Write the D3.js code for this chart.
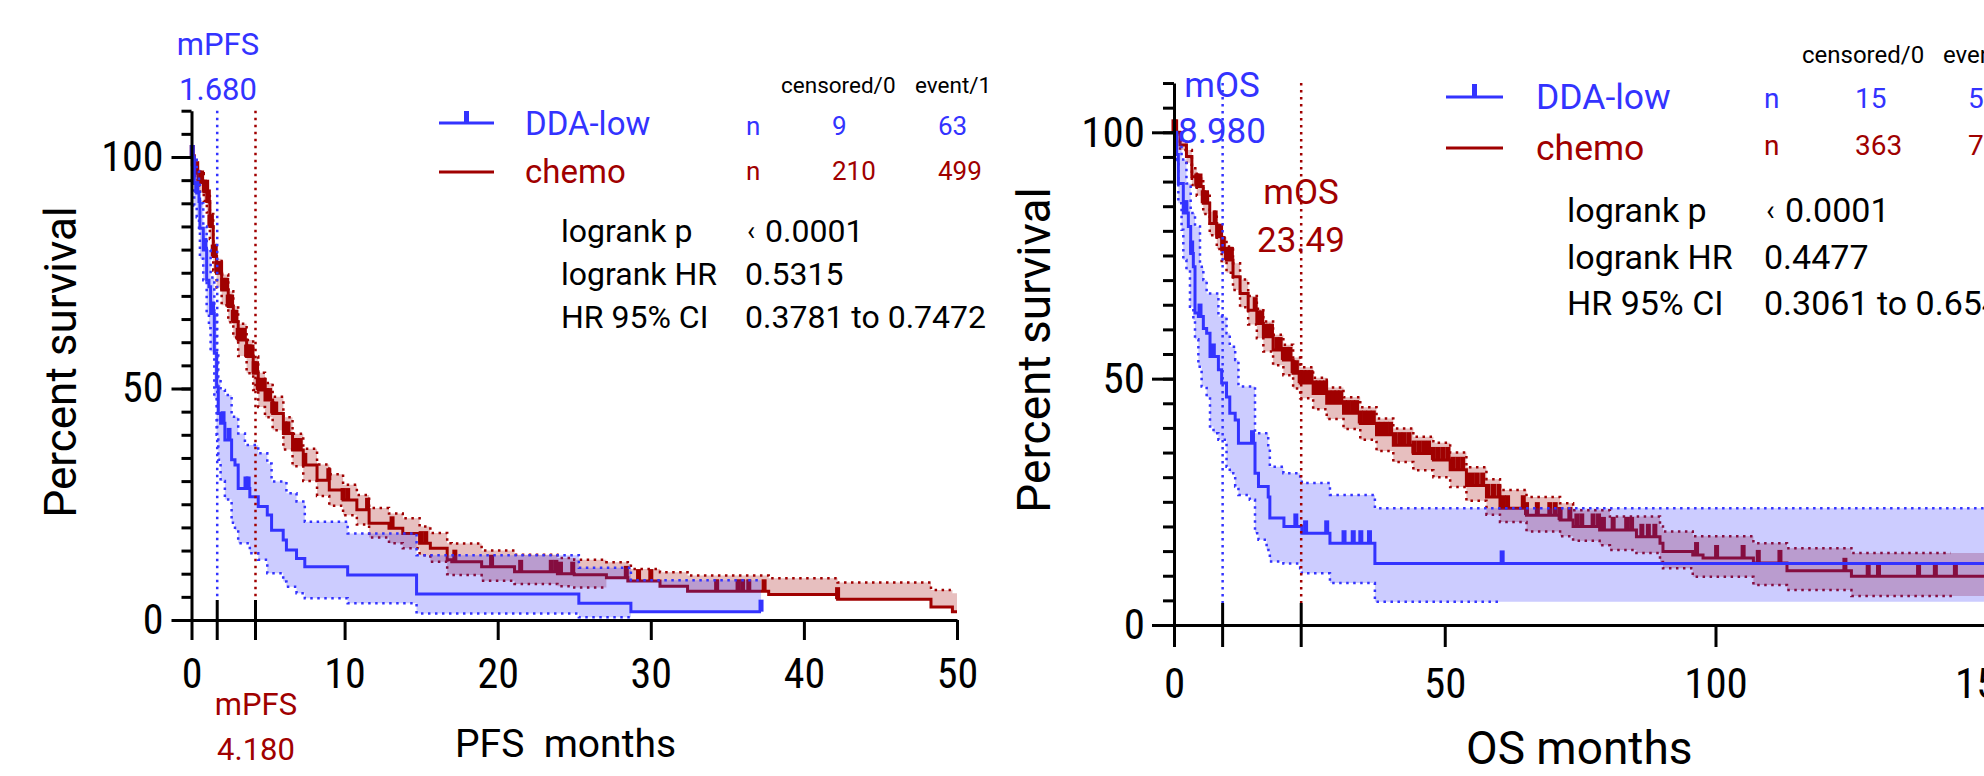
<!DOCTYPE html>
<html>
<head>
<meta charset="utf-8">
<script src="https://cdn.jsdelivr.net/npm/d3@7"></script>
<style>
html, body { margin: 0; padding: 0; background: #fff; overflow: hidden; }
svg { display: block; }
text { font-family: Roboto, "Noto Sans", sans-serif; }
.tick text { font-family: "Roboto Condensed", "Liberation Sans Narrow", Roboto, sans-serif; }
</style>
</head>
<body>
<svg id="chart" width="1984" height="776"></svg>
<script>
const BLUE = '#3333ff';
const RED = '#a00000';

// Kaplan-Meier rows: [months, survival %, lower 95% CI, upper 95% CI]
const pfsLow = [
  [0, 100, 100, 100], [0.18, 94.3, 89.5, 99.4], [0.34, 92.2, 87, 97], [0.49, 90.4, 84.2, 95],
  [0.55, 84.6, 78, 90], [0.77, 79.9, 73.4, 85], [0.99, 73.4, 66, 80], [1.14, 72.0, 63, 79.9],
  [1.25, 66.2, 58, 74], [1.49, 57.6, 48, 66], [1.64, 50.4, 40, 57.6], [1.75, 44.6, 34.6, 52],
  [1.90, 42.5, 30, 49.7], [2.18, 38.9, 26, 48.6], [2.62, 34.6, 21, 43.9], [2.84, 33.5, 19.4, 43.9],
  [3.05, 28.4, 16.6, 40.3], [3.49, 28.4, 16.6, 37.8], [3.81, 26.6, 14.4, 37.8], [4.36, 24.5, 13.0, 36.0],
  [4.95, 22.7, 10.1, 33.8], [5.23, 19.4, 10.1, 29.9], [5.99, 17.3, 8.3, 29.9], [6.2, 15.1, 7.2, 27.4],
  [6.86, 13.3, 5.8, 25.6], [7.4, 11.5, 4.7, 21.2], [10.2, 9.7, 3.6, 18.7], [14.7, 5.6, 1.4, 14.0],
  [25.3, 3.6, 0.6, 11.3], [28.7, 1.8, 1.8, 8.6], [37.2, 1.8, 1.8, 8.6]
];
const pfsLowCensor = [0.05, 0.34, 0.88, 1.38, 2.06, 2.45, 3.56, 3.7, 37.2];

const pfsChemo = [
  [0, 100, 100, 100], [0.1, 98, 97, 99.5], [0.23, 96.5, 95, 98], [0.5, 94.5, 92.5, 96.5],
  [0.8, 92.5, 90.5, 94.5], [1.0, 90.4, 88, 92.7], [1.2, 85, 82.3, 87.7], [1.42, 78.5, 75.5, 81.5],
  [1.64, 74.9, 71.8, 78], [1.97, 71.3, 68, 74.6], [2.4, 67.7, 64.3, 71], [2.73, 64.4, 61, 67.8],
  [3.05, 60.5, 57, 64], [3.6, 56.9, 53.3, 60.5], [4.03, 53.3, 49.7, 56.9], [4.36, 49.7, 46, 53.4],
  [4.8, 47.5, 43.8, 51.2], [5.3, 44.6, 41, 48.2], [6.0, 40.3, 36.8, 43.8], [6.6, 36.7, 33.2, 40.2],
  [7.3, 33.5, 30, 37], [8.2, 30.2, 26.8, 33.6], [9.0, 28.1, 24.7, 31.5], [9.9, 25.9, 22.6, 29.2],
  [10.8, 23.8, 20.6, 27], [11.6, 20.9, 17.8, 24.2], [12.9, 19.8, 16.6, 23], [13.8, 18.7, 15.5, 22],
  [14.9, 16.6, 14.0, 20.2], [15.6, 15.5, 12.6, 18.8], [16.7, 13.0, 9.9, 16.6], [17.0, 12.6, 9.7, 16.5],
  [18.95, 11.5, 8.5, 15.0], [21.1, 10.4, 7.8, 14.1], [23.9, 10.0, 7.3, 13.4], [25.0, 9.8, 7.0, 13.0],
  [27.1, 9.1, 9.1, 12.5], [28.5, 8.4, 8.4, 12.1], [28.7, 8.4, 8.4, 11.0], [30.6, 7.3, 7.3, 10.3],
  [32.4, 6.2, 6.2, 9.6], [37.7, 5.5, 5.5, 9.0], [42.2, 4.5, 4.5, 8.1], [48.3, 2.8, 2.8, 6.5],
  [49.7, 1.8, 1.8, 5.8], [50, 1.8, 1.8, 5.8]
];
const pfsChemoCensor = [
  0.05, 0.12, 0.34, 0.5, 0.66, 0.85, 0.99, 1.1, 1.2, 1.3, 1.42, 1.55, 1.65, 1.75, 1.9, 2.05, 2.18,
  2.3, 2.4, 2.51, 2.62, 2.73, 2.9, 3.05, 3.16, 3.3, 3.45, 3.6, 3.7, 3.8, 3.95, 4.1, 4.25, 4.36, 4.5,
  4.58, 4.75, 4.9, 5.1, 5.3, 5.5, 6.1, 6.3, 6.75, 6.9, 7.1, 7.4, 8.97, 9.9, 10.2, 11.5, 13.1, 15.0,
  15.3, 17.2, 19.6, 21.5, 23.5, 23.8, 24.1, 24.9, 28.4, 29.2, 30.0, 34.3, 35.7, 36.0, 36.4, 37.4, 42.2
];

const osLow = [
  [0, 100, 100, 100], [0.49, 95.5, 94.4, 100], [0.8, 89.6, 85.6, 100], [1.4, 89.6, 80.2, 94.5],
  [1.72, 83.6, 74.1, 94.5], [2.3, 83.6, 72, 89.6], [2.65, 80.9, 72, 89.6], [2.95, 80.9, 64.6, 89.6],
  [3.08, 75.4, 64.6, 83.6], [3.57, 72.7, 61.9, 83.6], [3.88, 63.3, 58, 80.9], [4.5, 62.6, 52.4, 80.9],
  [4.8, 62.6, 52.4, 72.7], [5.1, 62.6, 48.4, 72.7], [5.42, 60.2, 48.4, 70], [6.03, 59.2, 46.3, 67.3],
  [6.65, 54.5, 40.3, 67.3], [7.3, 54.5, 38.9, 67.3], [8.2, 51.8, 37.6, 62.6], [8.8, 49.1, 37.6, 62.6],
  [9.7, 46.3, 32.1, 59.2], [10.3, 43, 30.8, 56.5], [11.3, 41.6, 28.1, 53.8], [11.9, 36.9, 26.4, 48.4],
  [14.0, 36.9, 25.4, 48.4], [14.96, 30.8, 18.6, 38.9], [15.6, 28.1, 17.3, 38.9], [17.1, 28.1, 15.2, 38.9],
  [17.4, 26.0, 15.2, 36.2], [17.7, 21.7, 12.9, 32.1], [20.2, 21.7, 12.5, 30.8], [20.3, 20.0, 12.5, 30.8],
  [23.3, 20.0, 11.5, 29.8], [23.6, 18.6, 10.5, 28.8], [28.8, 16.6, 8.5, 26.4], [37.1, 12.5, 4.7, 23.7],
  [150, 12.5, 4.7, 23.7]
];
const osLowCensor = [2.2, 3.26, 4.8, 7.26, 14.5, 22.5, 24.3, 28.2, 31.4, 33.1, 34.5, 36.1, 60.6];

const osChemo = [
  [0, 100, 100, 100], [1.1, 97.4, 96.4, 98.4], [2.3, 95.1, 93.8, 96.4], [3.3, 91, 89.3, 92.7],
  [4.2, 89, 87.1, 90.9], [5.4, 85.6, 83.4, 87.8], [6.6, 81.5, 79.1, 83.9], [7.9, 78.8, 76.3, 81.3],
  [8.8, 76.1, 73.5, 78.7], [9.7, 74.1, 71.5, 76.8], [10.9, 70.7, 68, 73.4], [12.2, 67.3, 64.5, 70.1],
  [13.7, 63.9, 61, 66.8], [15.3, 61.2, 58.2, 64.2], [16.5, 58.5, 55.5, 61.6], [18.3, 55.8, 52.7, 58.9],
  [20.2, 53.8, 50.7, 56.9], [22, 51.1, 48, 54.3], [23.3, 49.1, 46, 52.3], [25.7, 47, 43.8, 50.2],
  [28.2, 45, 41.8, 48.2], [31.3, 43, 39.8, 46.2], [34.4, 40.9, 37.6, 44.2], [37.4, 38.6, 35.3, 41.9],
  [40.5, 36.5, 33.1, 39.9], [44.2, 34.8, 31.4, 38.2], [47.9, 33.5, 30.0, 37.0], [51, 31.5, 28, 35],
  [54, 28.3, 25.2, 32], [57.7, 26, 22.4, 29.6], [60.2, 23.7, 20.9, 27.4], [65.1, 22.3, 19.0, 26],
  [71.3, 21.3, 18.0, 24.7], [73.7, 20.0, 17.1, 23.3], [78.6, 19.3, 16.2, 23.3], [80.5, 19.3, 15.2, 22.0],
  [85.4, 17.9, 14.6, 22.0], [89.75, 16.6, 12.8, 20.0], [90.3, 14.9, 11.5, 19.0], [95.8, 14.2, 9.8, 18.0],
  [97.7, 13.6, 9.8, 18.0], [107, 12.6, 8.1, 16.6], [113.2, 11.0, 7.1, 15.6], [125.1, 9.9, 5.9, 14.6],
  [150, 9.9, 5.9, 14.6]
];
const osChemoCensor = [
  0, 0.3, 4.2, 4.8, 5.4, 6.0, 7.6, 8.1, 8.6, 9.1, 9.7, 10.2, 10.6, 15.0, 15.6, 16.2, 16.8, 17.4,
  18.0, 19.0, 19.6, 20.2, 20.8, 21.4, 22.0, 22.6, 23.3, 24.0, 24.6, 25.3, 26.0, 26.6, 27.3, 28.0,
  28.6, 29.4, 30.1, 30.8, 31.5, 32.2, 33.0, 33.7, 34.4, 35.2, 36.0, 36.8, 37.6, 38.4, 39.2, 40.0,
  40.8, 41.7, 42.5, 43.4, 44.3, 45.2, 46.1, 47.0, 47.9, 48.8, 49.7, 50.6, 51.5, 52.4, 53.3, 54.2,
  55.1, 56.0, 57.0, 58.0, 59.0, 60.0, 60.8, 61.6, 64.5, 65.1, 67.1, 69.4, 70.4, 71.3, 73.1, 74.4,
  75.3, 77.4, 78.4, 79.3, 81.1, 83.6, 84.5, 86.4, 87.6, 88.8, 96.5, 100.2, 105.1, 107.9, 111.9,
  123.9, 128.2, 130.1, 137.5, 140.6, 144.3
];

const pfsMedians = [1.68, 4.18];
const osMedians = [8.98, 23.49];
const pfsXTicks = [0, 10, 20, 30, 40, 50];
const osXTicks = [0, 50, 100, 150];
const yTicks = [0, 50, 100];
const yMinor = d3.range(0, 111, 5);

const pfsCounts = [['9', '63'], ['210', '499']];
const osCounts = [['15', '57'], ['363', '735']];
const pfsStats = [['logrank p', '0.0001'], ['logrank HR', '0.5315'], ['HR 95% CI', '0.3781 to 0.7472']];
const osStats = [['logrank p', '0.0001'], ['logrank HR', '0.4477'], ['HR 95% CI', '0.3061 to 0.6548']];

const svg = d3.select('#chart');

function txt(g, x, y, s, size, color, anchor) {
  return g.append('text')
    .attr('x', x).attr('y', y)
    .attr('font-size', size)
    .attr('fill', color || '#000')
    .attr('text-anchor', anchor || 'start')
    .style('white-space', 'pre')
    .text(s);
}

function survAt(rows, t) {
  let s = rows[0][1];
  for (const r of rows) { if (r[0] <= t) s = r[1]; else break; }
  return s;
}

// rows up to a time, for dotted CI lines that stop before the curve ends
function upTo(rows, end, k) {
  const out = rows.filter(r => r[0] < end).map(r => [r[0], r[k]]);
  out.push([end, out[out.length - 1][1]]);
  return out;
}

function drawGroup(g, x, y, rows, censor, color, fill, ends, tick) {
  const step = d3.line().curve(d3.curveStepAfter).x(d => x(d[0])).y(d => y(d[1]));
  const band = d3.area().curve(d3.curveStepAfter)
      .x(d => x(d[0])).y0(d => y(d[2])).y1(d => y(d[3]));

  g.append('path').attr('d', band(rows)).attr('fill', fill);

  [[2, ends[0]], [3, ends[1]]].forEach(([k, end]) => {
    g.append('path')
      .attr('d', step(upTo(rows, end, k)))
      .attr('fill', 'none')
      .attr('stroke', color)
      .attr('stroke-width', 2.5)
      .attr('stroke-dasharray', '2.5 4.5');
  });

  g.append('path')
    .attr('d', step(rows.map(r => [r[0], r[1]])))
    .attr('fill', 'none')
    .attr('stroke', color)
    .attr('stroke-width', 3);

  g.selectAll(null).data(censor).join('rect')
    .attr('x', d => x(d) - 2.5)
    .attr('y', d => y(survAt(rows, d)) - tick)
    .attr('width', 5)
    .attr('height', tick)
    .attr('fill', color);
}

function drawPanel(p) {
  const g = svg.append('g');
  const x = d3.scaleLinear().domain(p.xDomain).range(p.xRange);
  const y = d3.scaleLinear().domain([0, 110]).range(p.yRange);

  // chemo first, DDA-low band laid over it
  drawGroup(g, x, y, p.chemo, p.chemoCensor, RED, 'rgba(160,0,0,0.25)', p.chemoEnds, p.tick);
  drawGroup(g, x, y, p.low, p.lowCensor, BLUE, 'rgba(51,51,255,0.25)', p.lowEnds, p.tick);

  // median markers
  p.medians.forEach((m, i) => {
    g.append('line')
      .attr('x1', x(m)).attr('x2', x(m))
      .attr('y1', y(110)).attr('y2', y(0) - p.tk)
      .attr('stroke', i === 0 ? BLUE : RED).attr('stroke-width', 2.5)
      .attr('stroke-dasharray', '2.5 4.5');
    g.append('line')
      .attr('x1', x(m)).attr('x2', x(m))
      .attr('y1', y(0) - p.tk).attr('y2', y(0) + p.tk)
      .attr('stroke', '#000').attr('stroke-width', 3);
  });

  // axes
  const ax = g.append('g').attr('transform', `translate(0,${y(0)})`)
    .call(d3.axisBottom(x).tickValues(p.xTicks).tickSize(p.tk).tickSizeOuter(0).tickPadding(p.xPad));
  const ay = g.append('g').attr('transform', `translate(${x(0)},0)`)
    .call(d3.axisLeft(y).tickValues(yTicks).tickSize(p.tk).tickSizeOuter(0).tickPadding(p.yPad));
  const am = g.append('g').attr('transform', `translate(${x(0)},0)`)
    .call(d3.axisLeft(y).tickValues(yMinor).tickSize(p.tk / 2).tickFormat(''));
  am.select('.domain').remove();
  [ax, ay, am].forEach(a => {
    a.attr('font-family', null).attr('font-size', p.tickFont);
    a.selectAll('path, line').attr('stroke', '#000').attr('stroke-width', 3);
    a.selectAll('text').attr('fill', '#000');
  });

  // axis titles
  txt(g, p.xTitle[0], p.xTitle[1], p.xTitle[2], p.xTitle[3]);
  txt(g, 0, 0, 'Percent survival', p.yTitle[2], '#000', 'middle')
    .attr('transform', `translate(${p.yTitle[0]},${p.yTitle[1]}) rotate(-90)`);

  // median labels
  p.medLabels.forEach(l => {
    txt(g, l.x, l.y, l.name, l.size, l.c, 'middle');
    txt(g, l.x, l.y + l.gap, l.val, l.size, l.c, 'middle');
  });

  // legend
  const L = p.legend;
  txt(g, L.c1, L.head, 'censored/0', L.headSize);
  txt(g, L.c2, L.head, 'event/1', L.headSize);
  [[BLUE, 'DDA-low', 0, true], [RED, 'chemo', 1, false]].forEach(([c, name, i, tick]) => {
    const ly = L.rows[i];
    g.append('line').attr('x1', L.line[0]).attr('x2', L.line[1])
      .attr('y1', ly).attr('y2', ly).attr('stroke', c).attr('stroke-width', 3);
    if (tick) {
      g.append('rect').attr('x', (L.line[0] + L.line[1]) / 2 - 2.5).attr('y', ly - p.tick)
        .attr('width', 5).attr('height', p.tick).attr('fill', c);
    }
    txt(g, L.name, L.nameY[i], name, L.nameSize, c);
    txt(g, L.n, L.numY[i], 'n', L.numSize, c);
    txt(g, L.c1 + L.shift1, L.numY[i], p.counts[i][0], L.numSize, c);
    txt(g, L.c2 + L.shift2, L.numY[i], p.counts[i][1], L.numSize, c);
  });

  // stats
  const S = p.stats;
  p.statRows.forEach((r, i) => {
    const by = S.y0 + i * S.dy;
    txt(g, S.x0, by, r[0], S.size);
    if (i === 0) {
      txt(g, S.x1 + 2, by - 2, '\u2039', S.size * 0.85);
      txt(g, S.x1 + S.lt, by, r[1], S.size);
    } else {
      txt(g, S.x1, by, r[1], S.size);
    }
  });
}

drawPanel({
  xDomain: [0, 50], xRange: [191.5, 957], yRange: [620, 620 - 110 * 4.63],
  low: pfsLow, lowCensor: pfsLowCensor, lowEnds: [28.7, 37.2],
  chemo: pfsChemo, chemoCensor: pfsChemoCensor, chemoEnds: [27.1, 49.6],
  medians: pfsMedians, xTicks: pfsXTicks,
  tk: 20, xPad: 18, yPad: 8, tickFont: 42, tick: 12,
  xTitle: [455, 757, 'PFS  months', 39],
  yTitle: [76, 362, 44],
  medLabels: [
    { x: 218, y: 55, gap: 45, name: 'mPFS', val: '1.680', size: 31, c: BLUE },
    { x: 256, y: 715, gap: 45, name: 'mPFS', val: '4.180', size: 31, c: RED }
  ],
  counts: pfsCounts,
  legend: { head: 93, headSize: 22.5, c1: 781, c2: 915, rows: [123, 172], line: [439, 494],
            nameY: [135, 183], numY: [135, 180], name: 525, nameSize: 33, n: 746, numSize: 26,
            shift1: 51, shift2: 23 },
  statRows: pfsStats,
  stats: { x0: 561, x1: 745, lt: 20, y0: 242, dy: 43, size: 32 }
});

drawPanel({
  xDomain: [0, 150], xRange: [1174, 1174 + 150 * 5.415], yRange: [625, 625 - 110 * 4.927],
  low: osLow, lowCensor: osLowCensor, lowEnds: [60.6, 150],
  chemo: osChemo, chemoCensor: osChemoCensor, chemoEnds: [144, 143.4],
  medians: osMedians, xTicks: osXTicks,
  tk: 22, xPad: 20, yPad: 7, tickFont: 43, tick: 13,
  xTitle: [1466, 764, 'OS months', 46],
  yTitle: [1050, 350, 46],
  medLabels: [
    { x: 1222, y: 97, gap: 46, name: 'mOS', val: '8.980', size: 35, c: BLUE },
    { x: 1301, y: 204, gap: 48, name: 'mOS', val: '23.49', size: 35, c: RED }
  ],
  counts: osCounts,
  legend: { head: 63, headSize: 24, c1: 1802, c2: 1943, rows: [97, 148], line: [1446, 1503],
            nameY: [109, 160], numY: [108, 155], name: 1536, nameSize: 35.5, n: 1764, numSize: 28,
            shift1: 53, shift2: 25 },
  statRows: osStats,
  stats: { x0: 1567, x1: 1764, lt: 21, y0: 222, dy: 46.5, size: 34 }
});
</script>
</body>
</html>
